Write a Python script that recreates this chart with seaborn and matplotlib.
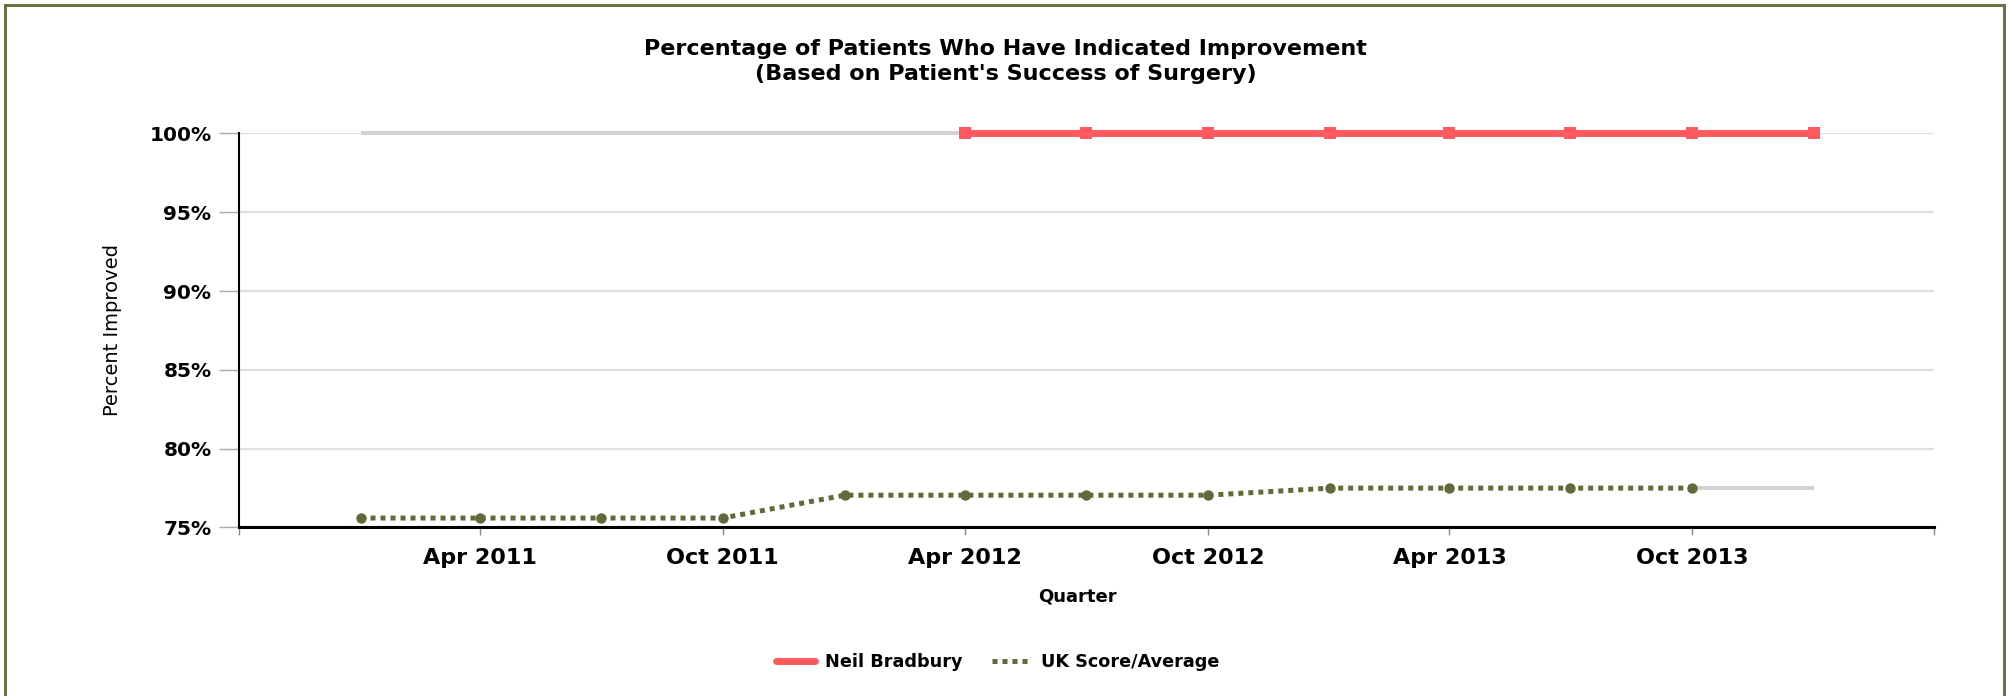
import numpy as np
import pandas as pd
import seaborn as sns
import matplotlib
matplotlib.use('Agg')
import matplotlib.pyplot as plt
from matplotlib.patches import Rectangle
from matplotlib.ticker import FuncFormatter

# dane (kwartaly)
quarters = ['2011-01-01', '2011-04-01', '2011-07-01', '2011-10-01',
            '2012-01-01', '2012-04-01', '2012-07-01', '2012-10-01',
            '2013-01-01', '2013-04-01', '2013-07-01', '2013-10-01',
            '2014-01-01']
neil = [np.nan, np.nan, np.nan, np.nan, np.nan,
        100, 100, 100, 100, 100, 100, 100, 100]
uk = [75.6, 75.6, 75.6, 75.6, 77.05, 77.05, 77.05, 77.05,
      77.5, 77.5, 77.5, 77.5, np.nan]
series_names = ['Neil Bradbury', 'UK Score/Average']
xtick_dates = ['2010-10-01', '2011-04-01', '2011-10-01', '2012-04-01',
               '2012-10-01', '2013-04-01', '2013-10-01', '2014-04-01']
xtick_labels = ['', 'Apr 2011', 'Oct 2011', 'Apr 2012', 'Oct 2012',
                'Apr 2013', 'Oct 2013', '']
yticks = [75, 80, 85, 90, 95, 100]

red = '#ff5a5f'
olive = '#5f6b3a'
grey = '#d2d2d2'

df = pd.DataFrame({'Quarter': pd.to_datetime(quarters), 'neil': neil, 'uk': uk})

sns.set_style('white')
plt.rcParams['font.family'] = ['DejaVu Sans']
plt.rcParams['text.color'] = 'black'
plt.rcParams['axes.labelcolor'] = 'black'
plt.rcParams['xtick.color'] = 'black'
plt.rcParams['ytick.color'] = 'black'

fig = plt.figure(figsize=(20.11, 6.96), dpi=100)
ax = fig.add_axes([0.1186, 0.2421, 0.8429, 0.5661])

# szare linie tam gdzie brak danych
first = df['neil'].first_valid_index()
ax.plot(df['Quarter'].iloc[[0, first]], [df['neil'][first]] * 2,
        color=grey, lw=2.8, zorder=2, solid_capstyle='butt', clip_on=False)
last = df['uk'].last_valid_index()
ax.plot(df['Quarter'].iloc[[last, len(df) - 1]], [df['uk'][last]] * 2,
        color=grey, lw=2.8, zorder=2, solid_capstyle='butt', clip_on=False)

sns.lineplot(data=df, x='Quarter', y='neil', ax=ax, color=red, lw=5,
             marker='s', markersize=9, markeredgewidth=0, zorder=4,
             label=series_names[0], legend=False, clip_on=False)
sns.lineplot(data=df, x='Quarter', y='uk', ax=ax, color=olive, lw=3.6,
             linestyle=(0, (1, 1)), marker='o', markersize=7.5,
             markeredgewidth=0, zorder=4, label=series_names[1], legend=False,
             clip_on=False)

ax.set_xlim(df['Quarter'].iloc[0] - pd.DateOffset(months=3),
            df['Quarter'].iloc[-1] + pd.DateOffset(months=3))
ax.set_ylim(75, 100)
ax.set_yticks(yticks)
ax.yaxis.set_major_formatter(FuncFormatter(lambda v, p: '%d%%' % v))
ax.set_xticks(pd.to_datetime(xtick_dates))
ax.set_xticklabels(xtick_labels)

for lab in ax.get_xticklabels():
    lab.set_fontweight('bold')
    lab.set_fontsize(16)
for lab in ax.get_yticklabels():
    lab.set_fontweight('bold')
    lab.set_fontsize(14.5)
ax.tick_params(axis='x', length=6, width=1, color='#888888', pad=9, bottom=True)
ax.tick_params(axis='y', length=14.5, width=1, color='#aaaaaa', pad=5, left=True)

ax.grid(axis='y', color='#dedede', lw=1.6, zorder=0)
ax.set_axisbelow(True)
sns.despine(ax=ax, top=True, right=True)
ax.spines['left'].set_linewidth(1.5)
ax.spines['left'].set_color('black')
ax.spines['bottom'].set_linewidth(2.2)
ax.spines['bottom'].set_color('black')

ax.set_ylabel('Percent Improved', fontsize=14)
ax.yaxis.set_label_coords(-0.069, 0.5)
ax.set_xlabel('Quarter', fontsize=13, fontweight='bold')
ax.xaxis.set_label_coords(0.4947, -0.152)

fig.text(0.5, 1 - 61.5 / 696,
         "Percentage of Patients Who Have Indicated Improvement\n(Based on Patient's Success of Surgery)",
         ha='center', va='center', fontsize=16, fontweight='bold', linespacing=1.3)

handles = [plt.Line2D([], [], color=red, lw=5),
           plt.Line2D([], [], color=olive, lw=3.6, linestyle=(0, (1, 1)))]
fig.legend(handles, series_names, loc='center', bbox_to_anchor=(0.496, 1 - 662 / 696),
           ncol=2, frameon=False, handlelength=2.2, handletextpad=0.55,
           columnspacing=1.7, prop={'weight': 'bold', 'size': 12.7})

# ramka wokol calego obrazka
fig.add_artist(Rectangle((5 / 2011, -0.05), (2004 - 5) / 2011, 1.05 - 5 / 696,
                         transform=fig.transFigure, fill=False,
                         edgecolor='#6b7343', lw=2.2))

fig.savefig('out.png', dpi=100)
